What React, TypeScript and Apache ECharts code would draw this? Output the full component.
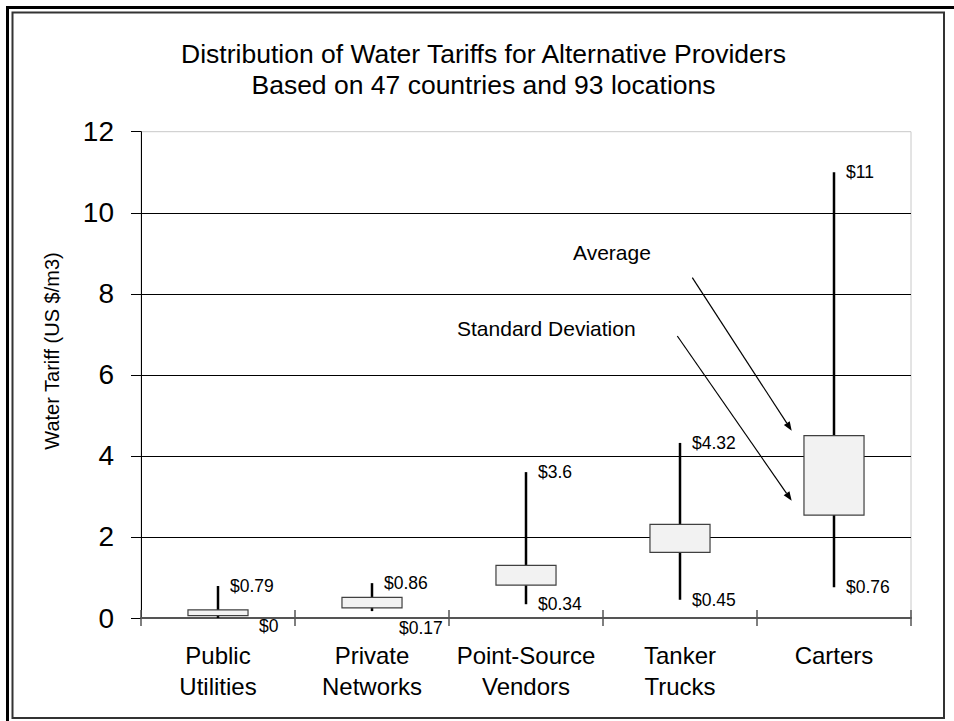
import React, { useEffect, useRef } from "react";
import * as echarts from "echarts";

const categories = ["Public\nUtilities", "Private\nNetworks", "Point-Source\nVendors", "Tanker\nTrucks", "Carters"];
const minValues = [0, 0.17, 0.34, 0.45, 0.76];
const boxLow = [0.06, 0.25, 0.81, 1.62, 2.54];
const boxHigh = [0.2, 0.51, 1.3, 2.31, 4.5];
const maxValues = [0.79, 0.86, 3.6, 4.32, 11];
const maxLabels = ["$0.79", "$0.86", "$3.6", "$4.32", "$11"];
const minLabels = ["$0", "$0.17", "$0.34", "$0.45", "$0.76"];
const titleLines = ["Distribution of Water Tariffs for Alternative Providers", "Based on 47 countries and 93 locations"];
const yAxisTitle = "Water Tariff (US $/m3)";
const yMin = 0;
const yMax = 12;
const yInterval = 2;

// label placement tweaks (styling, not data)
const minLabelShift = [[41, 8], [27, 17], [12, 0], [12, 0], [12, 0]];
const maxLabelShift = [12, 0];

const FONT = "'Liberation Sans', Arial, Helvetica, sans-serif";

function arrow(x1: number, y1: number, x2: number, y2: number) {
  const ang = Math.atan2(y2 - y1, x2 - x1);
  const len = 9;
  const w = 3.5;
  const bx = x2 - len * Math.cos(ang);
  const by = y2 - len * Math.sin(ang);
  const px = -Math.sin(ang) * w;
  const py = Math.cos(ang) * w;
  return [
    { type: "line", shape: { x1, y1, x2: bx, y2: by }, style: { stroke: "#000", lineWidth: 1.2 } },
    {
      type: "polygon",
      shape: { points: [[x2, y2], [bx + px, by + py], [bx - px, by - py]] },
      style: { fill: "#000" },
    },
  ];
}

export default function App() {
  const ref = useRef<HTMLDivElement>(null);
  useEffect(() => {
    if (!ref.current) return;
    const chart = echarts.init(ref.current, null, { renderer: "svg" });
    const data = categories.map((_, i) => [i, minValues[i], boxLow[i], boxHigh[i], maxValues[i]]);
    const option: any = {
      animation: false,
      textStyle: { fontFamily: FONT },
      grid: {
        left: 141,
        right: 43,
        top: 131.7,
        bottom: 103,
        show: true,
        borderColor: "#c8c8c8",
        borderWidth: 1,
        backgroundColor: "transparent",
      },
      xAxis: [
        {
          type: "category",
          data: categories,
          position: "bottom",
          axisLine: { lineStyle: { color: "#555", width: 2 } },
          axisTick: { show: true, inside: false, length: 8, lineStyle: { color: "#555", width: 1.5 } },
          axisLabel: { color: "#000", fontSize: 24, lineHeight: 31, margin: 22, interval: 0, fontFamily: FONT },
          splitLine: { show: false },
        },
        {
          type: "category",
          data: categories,
          position: "bottom",
          axisLine: { show: false },
          axisTick: { show: true, inside: true, length: 8, lineStyle: { color: "#555", width: 1.5 } },
          axisLabel: { show: false },
          splitLine: { show: false },
        },
      ],
      yAxis: {
        type: "value",
        min: yMin,
        max: yMax,
        interval: yInterval,
        axisLine: { show: true, lineStyle: { color: "#000", width: 1 } },
        axisTick: { show: true, inside: false, length: 10, lineStyle: { color: "#000", width: 1 } },
        axisLabel: { color: "#000", fontSize: 28, margin: 27, fontFamily: FONT },
        splitLine: { show: true, showMinLine: false, showMaxLine: false, lineStyle: { color: "#000", width: 1 } },
      },
      series: [
        {
          type: "custom",
          xAxisIndex: 0,
          yAxisIndex: 0,
          data,
          renderItem: (params: any, api: any) => {
            const i = api.value(0);
            const pMin = api.coord([i, api.value(1)]);
            const pLow = api.coord([i, api.value(2)]);
            const pHigh = api.coord([i, api.value(3)]);
            const pMax = api.coord([i, api.value(4)]);
            const bw = api.size([1, 0])[0] * 0.39;
            const x = pMin[0];
            const ms = minLabelShift[i];
            return {
              type: "group",
              children: [
                {
                  type: "line",
                  shape: { x1: x, y1: pMin[1], x2: x, y2: pMax[1] },
                  style: { stroke: "#000", lineWidth: 2.5 },
                },
                {
                  type: "rect",
                  shape: { x: x - bw / 2, y: pHigh[1], width: bw, height: pLow[1] - pHigh[1] },
                  style: { fill: "#f2f2f2", stroke: "#404040", lineWidth: 1.2 },
                },
                {
                  type: "text",
                  x: x + maxLabelShift[0],
                  y: pMax[1] + maxLabelShift[1],
                  style: {
                    text: maxLabels[i],
                    fill: "#000",
                    fontSize: 17.5,
                    fontFamily: FONT,
                    align: "left",
                    verticalAlign: "middle",
                  },
                },
                {
                  type: "text",
                  x: x + ms[0],
                  y: pMin[1] + ms[1],
                  style: {
                    text: minLabels[i],
                    fill: "#000",
                    fontSize: 17.5,
                    fontFamily: FONT,
                    align: "left",
                    verticalAlign: "middle",
                  },
                },
              ],
            };
          },
        },
      ],
      graphic: [
        { type: "line", shape: { x1: 6, y1: 7.5, x2: 954, y2: 7.5 }, style: { stroke: "#000", lineWidth: 3 } },
        { type: "line", shape: { x1: 7.5, y1: 6, x2: 7.5, y2: 721 }, style: { stroke: "#000", lineWidth: 3 } },
        {
          type: "rect",
          shape: { x: 12.5, y: 12.5, width: 931.5, height: 705.5 },
          style: { stroke: "#333", lineWidth: 2, fill: "none" },
        },
        {
          type: "text",
          x: 483.5,
          y: 53.5,
          style: { text: titleLines[0], fill: "#000", fontSize: 26.5, fontFamily: FONT, align: "center", verticalAlign: "middle" },
        },
        {
          type: "text",
          x: 483.5,
          y: 85.3,
          style: { text: titleLines[1], fill: "#000", fontSize: 26.5, fontFamily: FONT, align: "center", verticalAlign: "middle" },
        },
        {
          type: "text",
          x: 52,
          y: 351,
          rotation: Math.PI / 2,
          style: { text: yAxisTitle, fill: "#000", fontSize: 20, fontFamily: FONT, align: "center", verticalAlign: "middle" },
        },
        {
          type: "text",
          x: 573,
          y: 252.7,
          style: { text: "Average", fill: "#000", fontSize: 21, fontFamily: FONT, align: "left", verticalAlign: "middle" },
        },
        {
          type: "text",
          x: 457,
          y: 328.3,
          style: { text: "Standard Deviation", fill: "#000", fontSize: 21, fontFamily: FONT, align: "left", verticalAlign: "middle" },
        },
        ...arrow(692.3, 277.7, 791.7, 430.7),
        ...arrow(677.3, 336, 791.7, 500.7),
      ],
    };
    chart.setOption(option);
    return () => chart.dispose();
  }, []);
  return (
    <div
      ref={ref}
      style={{ position: "absolute", left: 0, top: 0, width: 954, height: 721, background: "#fff" }}
    />
  );
}
